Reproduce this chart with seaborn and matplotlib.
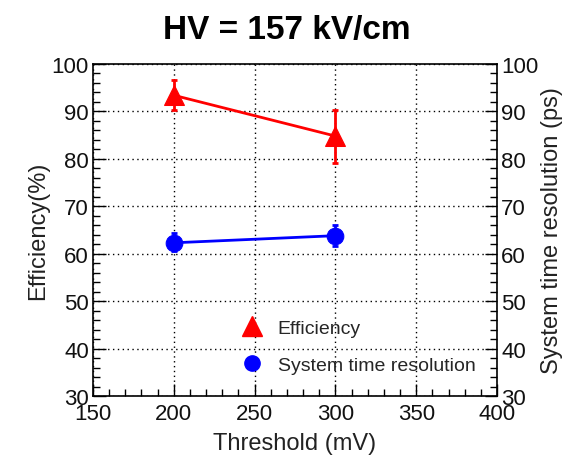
import matplotlib
matplotlib.use("Agg")
import matplotlib.pyplot as plt
import seaborn as sns
import pandas as pd
from matplotlib.ticker import MultipleLocator
from matplotlib.lines import Line2D

threshold = [200, 300]
efficiency = [93.4, 84.8]
eff_err_lo = [3.0, 5.6]
eff_err_hi = [3.2, 5.6]
time_res = [62.3, 63.8]
tr_err_lo = [1.8, 2.1]
tr_err_hi = [2.0, 2.3]

sns.set_theme(style="white")
plt.rcParams['font.family'] = ['Liberation Sans', 'DejaVu Sans']

fig = plt.figure(figsize=(5.73, 4.56), dpi=100)
ax = fig.add_axes([0.1623, 0.1294, 0.7051, 0.7281])

df = pd.DataFrame({"Threshold": threshold, "Efficiency": efficiency, "TimeRes": time_res})

sns.lineplot(data=df, x="Threshold", y="Efficiency", ax=ax, color="red", lw=2,
             marker="^", markersize=14, markeredgecolor="red", zorder=3)
ax.errorbar(threshold, efficiency, yerr=[eff_err_lo, eff_err_hi], fmt="none",
            ecolor="red", elinewidth=2, capsize=2, capthick=2, zorder=3)
sns.lineplot(data=df, x="Threshold", y="TimeRes", ax=ax, color="blue", lw=2,
             marker="o", markersize=12, markeredgecolor="blue", zorder=3)
ax.errorbar(threshold, time_res, yerr=[tr_err_lo, tr_err_hi], fmt="none",
            ecolor="blue", elinewidth=2, capsize=2, capthick=2, zorder=3)

ax.set_xlim(150, 400)
ax.set_ylim(30, 100)
ax.xaxis.set_major_locator(MultipleLocator(50))
ax.xaxis.set_minor_locator(MultipleLocator(10))
ax.yaxis.set_major_locator(MultipleLocator(10))
ax.yaxis.set_minor_locator(MultipleLocator(2))
ax.grid(True, which="major", color="black", linestyle=(0, (1, 2.5)), lw=1)

ax.tick_params(axis="both", which="both", direction="in", labelsize=16, colors="black",
               labelcolor="#111111", top=False, right=False, left=True, bottom=True)
ax.tick_params(axis="both", which="major", length=9, width=1)
ax.tick_params(axis="both", which="minor", length=5, width=1)
ax.tick_params(axis="x", pad=5)
ax.tick_params(axis="y", pad=3)

for s in ax.spines.values():
    s.set_color("black")
    s.set_linewidth(1.2)

ax.set_xlabel("Threshold (mV)", fontsize=17, color="#222222", labelpad=6)
ax.set_ylabel("Efficiency(%)", fontsize=17, color="#222222", labelpad=2)

ax2 = ax.twinx()
ax2.set_ylim(30, 100)
ax2.yaxis.set_major_locator(MultipleLocator(10))
ax2.yaxis.set_minor_locator(MultipleLocator(2))
ax2.tick_params(axis="y", which="both", direction="in", labelsize=16, colors="black",
                labelcolor="#111111", pad=3)
ax2.tick_params(axis="y", which="major", length=9, width=1)
ax2.tick_params(axis="y", which="minor", length=5, width=1)
ax2.set_ylabel("System time resolution (ps)", fontsize=17, color="#222222", labelpad=2)
ax2.grid(False)
for s in ax2.spines.values():
    s.set_visible(False)

handles = [
    Line2D([], [], color="red", marker="^", markersize=14, linestyle="none"),
    Line2D([], [], color="blue", marker="o", markersize=11, linestyle="none"),
]
ax.legend(handles, ["Efficiency", "System time resolution"], loc="lower left",
          bbox_to_anchor=(0.325, 0.042), frameon=False, fontsize=14,
          handletextpad=0.35, labelspacing=1.03, borderaxespad=0)

fig.suptitle("HV = 157 kV/cm", fontsize=24, fontweight="bold", x=0.5, y=0.968,
             va="top", color="black")

fig.savefig("out.png", dpi=100)
